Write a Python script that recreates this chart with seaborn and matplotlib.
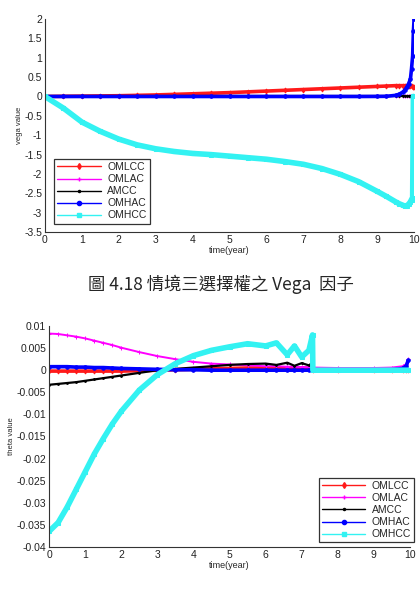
import matplotlib
matplotlib.use("Agg")
import matplotlib.pyplot as plt
import seaborn as sns
import pandas as pd
from matplotlib.lines import Line2D

sns.set_theme(style="white")
plt.rcParams['font.family'] = ['Liberation Sans', 'DejaVu Sans']

series_names = ["OMLCC", "OMLAC", "AMCC", "OMHAC", "OMHCC"]
series_colors = ["#ff1a1a", "#ff00ff", "#000000", "#0000ff", "#33f2f2"]
series_markers = ["d", "+", ".", "o", "s"]

# ---- Vega (top) ----
t_vega = [0, 0.5, 1, 1.5, 2, 2.5, 3, 3.5, 4, 4.5, 5, 5.5, 6, 6.5, 7, 7.5, 8, 8.5, 9,
          9.25, 9.5, 9.6, 9.7, 9.75, 9.8, 9.85, 9.9, 9.93, 9.96, 9.98, 10]
vega_omlcc = [0, 0.005, 0.01, 0.015, 0.02, 0.03, 0.04, 0.055, 0.07, 0.085, 0.1, 0.12, 0.14,
              0.16, 0.18, 0.2, 0.22, 0.24, 0.26, 0.27, 0.28, 0.28, 0.28, 0.28, 0.28, 0.27,
              0.27, 0.26, 0.25, 0.25, 0.24]
vega_omlac = [0] * 31
vega_amcc = [0] * 31
vega_omhac = [0, 0, 0, 0, 0, 0, 0, 0, 0, 0, 0, 0, 0, 0, 0, 0, 0, 0, 0.002,
              0.005, 0.03, 0.06, 0.12, 0.17, 0.24, 0.33, 0.45, 0.72, 1.05, 1.68, 2.0]
vega_omhcc = [0, -0.3, -0.66, -0.9, -1.1, -1.25, -1.35, -1.42, -1.47, -1.5, -1.54, -1.58,
              -1.62, -1.68, -1.75, -1.86, -2.01, -2.2, -2.45, -2.58, -2.72, -2.77, -2.81,
              -2.83, -2.82, -2.78, -2.72, -2.66, -2.62, 0, 0]
vega_yticks = [-3.5, -3, -2.5, -2, -1.5, -1, -0.5, 0, 0.5, 1, 1.5, 2]
vega_yticklabels = ["-3.5", "-3", "-2.5", "-2", "-1.5", "-1", "-0.5", "0", "0.5", "1", "1.5", "2"]

# ---- Theta (bottom) ----
t_theta = [0, 0.25, 0.5, 0.75, 1, 1.25, 1.5, 1.75, 2, 2.5, 3, 3.5, 4, 4.5, 5, 5.5, 6,
           6.3, 6.6, 6.8, 7.0, 7.2, 7.3, 7.31, 8, 9, 9.5, 9.8, 9.9, 9.95]
theta_omlcc = [-0.0002, -0.0002, -0.0002, -0.0002, -0.0002, -0.0002, -0.0002, -0.0002,
               -0.0002, -0.0001, 0, 0.0001, 0.0002, 0.0003, 0.0004, 0.0005, 0.0005,
               0.0005, 0.0005, 0.0005, 0.0005, 0.0005, 0.0005, 0, 0, 0, 0, 0, 0, 0]
theta_omlac = [0.0083, 0.0082, 0.0079, 0.0076, 0.0072, 0.0067, 0.0062, 0.0057, 0.0051,
               0.0041, 0.0032, 0.0025, 0.0019, 0.0015, 0.0013, 0.0011, 0.0009, 0.0009,
               0.0008, 0.0008, 0.0007, 0.0007, 0.0006, 0.0006, 0.0005, 0.0005, 0.0006,
               0.0009, 0.0014, 0.0025]
theta_amcc = [-0.0033, -0.0031, -0.0029, -0.0027, -0.0024, -0.0021, -0.0018, -0.0015,
              -0.0012, -0.0006, 0.0, 0.0003, 0.0006, 0.0009, 0.0012, 0.0014, 0.0015,
              0.0012, 0.0017, 0.0010, 0.0016, 0.0011, 0.0017, 0, 0, 0, 0, 0, 0, 0]
theta_omhac = [0.0008, 0.0008, 0.0008, 0.0007, 0.0007, 0.0006, 0.0006, 0.0005, 0.0004,
               0.0003, 0.0002, 0.0001, 0.0001, 0, 0, 0, 0, 0, 0, 0, 0, 0, 0, 0, 0, 0,
               0.0001, 0.0004, 0.0010, 0.0022]
theta_omhcc = [-0.0365, -0.0345, -0.031, -0.027, -0.023, -0.019, -0.0155, -0.0122, -0.0093,
               -0.0045, -0.001, 0.0015, 0.0033, 0.0045, 0.0053, 0.006, 0.0055, 0.0062,
               0.0035, 0.0055, 0.003, 0.0045, 0.008, 0, 0, 0, 0, 0, 0, 0]
theta_yticks = [-0.04, -0.035, -0.03, -0.025, -0.02, -0.015, -0.01, -0.005, 0, 0.005, 0.01]
theta_yticklabels = ["-0.04", "-0.035", "-0.03", "-0.025", "-0.02", "-0.015", "-0.01",
                     "-0.005", "0", "0.005", "0.01"]

xticks = [0, 1, 2, 3, 4, 5, 6, 7, 8, 9, 10]
caption = "圖 4.18 情境三選擇權之 Vega  因子"

widths = [2.6, 1.4, 1.6, 2.6, 4.0]

fig = plt.figure(figsize=(4.2, 5.95), dpi=100)
ax1 = fig.add_axes([0.107, 0.610, 0.879, 0.358])
ax2 = fig.add_axes([0.117, 0.081, 0.859, 0.371])


def draw(ax, t, values, yticks, ylabels, ylabel, legend_loc, bbox):
    for name, vals, c, m, w in zip(series_names, values, series_colors, series_markers, widths):
        df = pd.DataFrame({"t": t, "v": vals})
        sns.lineplot(data=df, x="t", y="v", ax=ax, color=c, linewidth=w,
                     marker=m, markersize=2.5, markeredgecolor=c, sort=False,
                     estimator=None, legend=False)
    ax.set_xlim(0, 10)
    ax.set_ylim(yticks[0], yticks[-1])
    ax.set_xticks(xticks)
    ax.set_xticklabels([str(x) for x in xticks], fontsize=7.5)
    ax.set_yticks(yticks)
    ax.set_yticklabels(ylabels, fontsize=7.5)
    ax.set_xlabel("time(year)", fontsize=6.5, labelpad=1)
    ax.set_ylabel(ylabel, fontsize=5.5, labelpad=1)
    ax.tick_params(direction="in", length=3, width=0.6, pad=2, colors="#222222")
    for s in ["top", "right"]:
        ax.spines[s].set_visible(False)
    for s in ["left", "bottom"]:
        ax.spines[s].set_color("#333333")
        ax.spines[s].set_linewidth(0.8)
    handles = [Line2D([0], [0], color=c, marker=m, markersize=3, lw=1)
               for c, m in zip(series_colors, series_markers)]
    leg = ax.legend(handles, series_names, loc=legend_loc, bbox_to_anchor=bbox,
                    fontsize=7.5, frameon=True, fancybox=False, handlelength=4.2,
                    labelspacing=0.2, borderpad=0.3, handletextpad=0.6,
                    borderaxespad=0.0)
    leg.get_frame().set_edgecolor("black")
    leg.get_frame().set_linewidth(0.9)


draw(ax1, t_vega, [vega_omlcc, vega_omlac, vega_amcc, vega_omhac, vega_omhcc],
     vega_yticks, vega_yticklabels, "vega value", "lower left", (0.025, 0.04))
draw(ax2, t_theta, [theta_omlcc, theta_omlac, theta_amcc, theta_omhac, theta_omhcc],
     theta_yticks, theta_yticklabels, "theta value", "lower right", (1.012, 0.02))

fig.text(0.525, 0.522, caption, ha="center", va="center", fontsize=12.5,
         family=["Noto Sans CJK TC", "DejaVu Sans"])

fig.savefig("out.png", dpi=100)
